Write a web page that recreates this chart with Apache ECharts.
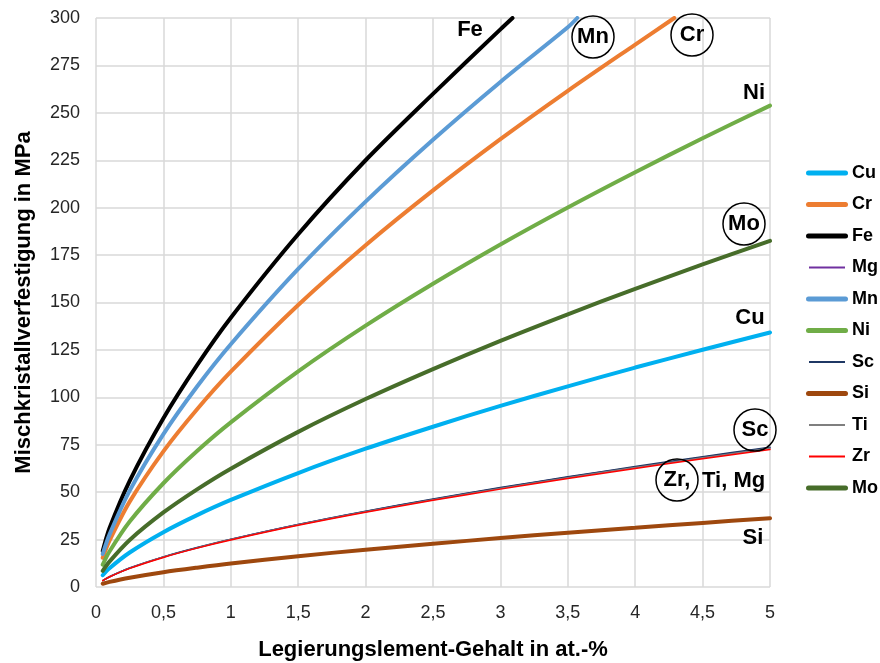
<!DOCTYPE html>
<html>
<head>
<meta charset="utf-8">
<script src="https://cdn.jsdelivr.net/npm/echarts@6/dist/echarts.min.js"></script>
<style>
  html, body { margin: 0; padding: 0; background: #fff; }
  #chart { width: 880px; height: 663px; }
</style>
</head>
<body>
<div id="chart"></div>
<script>
// Alloying element content (at.-%) at which the strengthening values are given
const conc = [0.05, 0.1, 0.25, 0.5, 0.75, 1, 1.5, 2, 2.5, 3, 3.5, 4, 4.5, 5];

// Solid-solution strengthening in MPa per element
const cu = [6.2, 9.9, 18.2, 28.9, 37.9, 45.9, 60.1, 72.9, 84.5, 95.5, 105.8, 115.7, 125.1, 134.2];
const cr = [15.4, 24.4, 45, 71.5, 93.7, 113.5, 148.7, 180.2, 209.1, 236.1, 261.6, 286];
const fe = [19, 31, 56, 89, 117, 142, 186, 225, 260, 294];
const mg = [3.4, 5.4, 10, 15.8, 20.7, 25.1, 32.9, 39.8, 46.2, 52.2, 57.9, 63.2, 68.4, 73.4];
const mn = [17.4, 27.6, 50.8, 80.6, 105.7, 128, 167.7, 203.2, 235.8, 266.3, 295.1];
const ni = [11.8, 18.7, 34.5, 54.7, 71.7, 86.8, 113.7, 137.8, 159.9, 180.6, 200.1, 218.7, 236.6, 253.8];
const sc = [3.4, 5.4, 10, 15.9, 20.8, 25.2, 33, 40, 46.4, 52.4, 58.1, 63.5, 68.7, 73.7];
const si = [1.7, 2.7, 4.9, 7.8, 10.2, 12.4, 16.2, 19.7, 22.8, 25.8, 28.6, 31.2, 33.8, 36.3];
const ti = [3.4, 5.4, 9.9, 15.8, 20.6, 25, 32.8, 39.7, 46, 52, 57.6, 63, 68.1, 73.1];
const zr = [3.4, 5.3, 9.8, 15.6, 20.5, 24.8, 32.5, 39.4, 45.7, 51.6, 57.2, 62.5, 67.6, 72.5];
const mo = [8.5, 13.4, 24.8, 39.3, 51.5, 62.4, 81.8, 99.1, 114.9, 129.8, 143.8, 157.2, 170.1, 182.5];

// Where the steep curves leave the 300 MPa top of the plot: [at.-%, MPa]
const feTop = [3.09, 300];
const mnTop = [3.57, 300];
const crTop = [4.29, 300];

const elements = ['Cu', 'Cr', 'Fe', 'Mg', 'Mn', 'Ni', 'Sc', 'Si', 'Ti', 'Zr', 'Mo'];
const yTicks = { min: 0, max: 300, step: 25 };
const xTicks = { min: 0, max: 5, step: 0.5 };

const FONT = '"Liberation Sans", Arial, sans-serif';

function pairs(values, top) {
  const pts = values.map((v, i) => [conc[i], v]);
  if (top) pts.push(top);
  return pts;
}

const seriesDefs = [
  { name: 'Cu', data: pairs(cu), color: '#00B0F0', width: 4 },
  { name: 'Cr', data: pairs(cr, crTop), color: '#ED7D31', width: 4 },
  { name: 'Fe', data: pairs(fe, feTop), color: '#000000', width: 4 },
  { name: 'Mg', data: pairs(mg), color: '#7030A0', width: 1.5 },
  { name: 'Mn', data: pairs(mn, mnTop), color: '#5B9BD5', width: 4 },
  { name: 'Ni', data: pairs(ni), color: '#70AD47', width: 4 },
  { name: 'Sc', data: pairs(sc), color: '#1F3864', width: 1.5 },
  { name: 'Si', data: pairs(si), color: '#9E480E', width: 4 },
  { name: 'Ti', data: pairs(ti), color: '#7F7F7F', width: 1.5 },
  { name: 'Zr', data: pairs(zr), color: '#FF0000', width: 1.5 },
  { name: 'Mo', data: pairs(mo), color: '#476D2A', width: 4 }
];

// Legend swatches: a plain stroke, thick or thin like the curve it names
const THICK_ICON = 'path://M0,0M42,14M2.5,4.5L39.5,4.5A2.5,2.5,0,0,1,39.5,9.5L2.5,9.5A2.5,2.5,0,0,1,2.5,4.5Z';
const THIN_ICON = 'path://M0,0M42,14M3,6L39,6L39,8L3,8Z';

const chart = echarts.init(document.getElementById('chart'), null, { renderer: 'canvas' });

// In-plot element labels, circled ones get a ring
function label(text, x, y, ring) {
  const items = [];
  if (ring) {
    items.push({
      type: 'circle',
      shape: { cx: x, cy: y, r: 21 },
      style: { fill: 'none', stroke: '#000', lineWidth: 1.5 },
      z: 100
    });
  }
  items.push({
    type: 'text',
    x: x, y: y,
    style: {
      text: text, fill: '#000', font: 'bold 22px ' + FONT,
      align: 'center', verticalAlign: 'middle'
    },
    z: 101
  });
  return items;
}

const graphics = [].concat(
  label('Fe', 470, 30, false),
  label('Mn', 593, 37, true),
  label('Cr', 692, 35, true),
  label('Ni', 754, 93, false),
  label('Mo', 744, 224, true),
  label('Cu', 750, 318, false),
  label('Sc', 755, 430, true),
  label('Zr,', 677, 480, true),
  [{
    type: 'text', x: 702, y: 481,
    style: { text: 'Ti, Mg', fill: '#000', font: 'bold 22px ' + FONT, align: 'left', verticalAlign: 'middle' },
    z: 101
  }],
  label('Si', 753, 538, false)
);

chart.setOption({
  animation: false,
  backgroundColor: '#fff',
  grid: { left: 96, right: 110, top: 18, bottom: 76, containLabel: false, outerBoundsMode: 'none' },
  legend: {
    data: seriesDefs.map(s => ({
      name: s.name,
      icon: s.width > 2 ? THICK_ICON : THIN_ICON
    })),
    orient: 'vertical',
    left: 806,
    top: 164,
    padding: 0,
    itemWidth: 42,
    itemHeight: 14,
    itemGap: 13.5,
    itemStyle: { borderWidth: 0 },
    textStyle: { fontFamily: FONT, fontWeight: 'bold', fontSize: 18, color: '#000', padding: [0, 0, 0, -1] }
  },
  xAxis: {
    type: 'value',
    min: xTicks.min, max: xTicks.max, interval: xTicks.step,
    name: 'Legierungslement-Gehalt in at.-%',
    nameLocation: 'middle',
    nameGap: 52,
    nameTextStyle: { fontFamily: FONT, fontWeight: 'bold', fontSize: 22, color: '#000' },
    axisLine: { show: false },
    axisTick: { show: false },
    axisLabel: {
      fontFamily: FONT, fontSize: 18, color: '#262626', margin: 17,
      formatter: v => String(v).replace('.', ',')
    },
    splitLine: { show: true, lineStyle: { color: '#D9D9D9', width: 1.5 } }
  },
  yAxis: {
    type: 'value',
    min: yTicks.min, max: yTicks.max, interval: yTicks.step,
    name: 'Mischkristallverfestigung in MPa',
    nameLocation: 'middle',
    nameGap: 61,
    nameTextStyle: { fontFamily: FONT, fontWeight: 'bold', fontSize: 22, color: '#000' },
    axisLine: { show: false },
    axisTick: { show: false },
    axisLabel: { fontFamily: FONT, fontSize: 18, color: '#262626', margin: 16 },
    splitLine: { show: true, lineStyle: { color: '#D9D9D9', width: 1.5 } }
  },
  series: seriesDefs.map(s => ({
    name: s.name,
    type: 'line',
    data: s.data,
    smooth: 0.3,
    symbol: 'none',
    clip: true,
    color: s.color,
    lineStyle: { color: s.color, width: s.width, cap: 'round' }
  })),
  graphic: graphics
});
</script>
</body>
</html>
